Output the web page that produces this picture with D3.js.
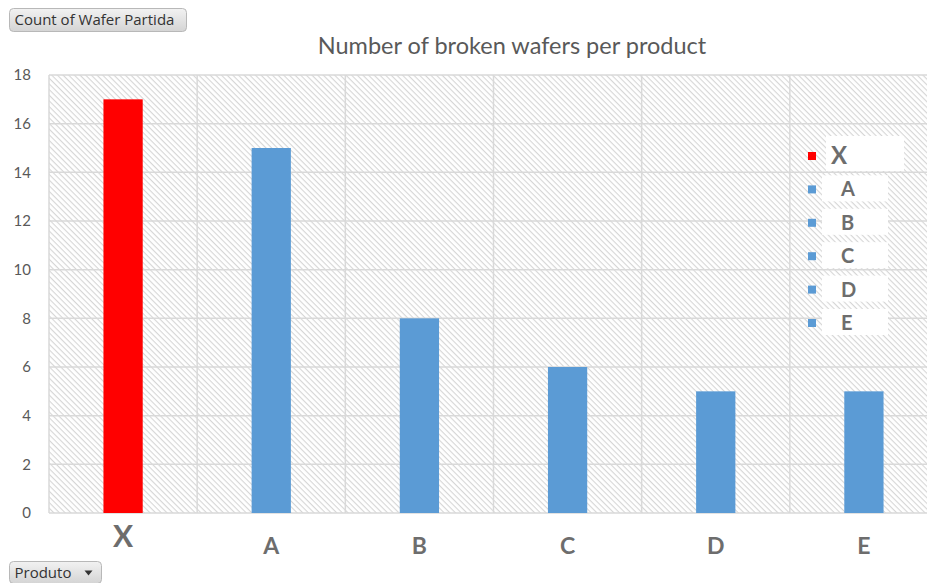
<!DOCTYPE html>
<html>
<head>
<meta charset="utf-8">
<script src="https://cdn.jsdelivr.net/npm/d3@7"></script>
<style>
  body { margin: 0; background: #fff; }
  svg { display: block; }
</style>
</head>
<body>
<svg id="chart"></svg>
<script>
// data
const products = ["X", "A", "B", "C", "D", "E"];
const counts = [17, 15, 8, 6, 5, 5];
const barColors = ["#ff0000", "#5b9bd5", "#5b9bd5", "#5b9bd5", "#5b9bd5", "#5b9bd5"];
const yTicks = [0, 2, 4, 6, 8, 10, 12, 14, 16, 18];

const W = 927, H = 583;
const margin = {top: 75, left: 49, right: -11, bottom: 70};

const svg = d3.select("#chart")
    .attr("width", W)
    .attr("height", H)
    .attr("viewBox", [0, 0, W, H])
    .style("font-family", "Lato, 'Open Sans', sans-serif");

// hatch pattern for plot background
const defs = svg.append("defs");
const pat = defs.append("pattern")
    .attr("id", "hatch")
    .attr("patternUnits", "userSpaceOnUse")
    .attr("width", 4).attr("height", 4)
    .attr("patternTransform", "rotate(45)");
pat.append("rect").attr("width", 4).attr("height", 4).attr("fill", "#fff");
pat.append("line")
    .attr("x1", 0).attr("y1", 0).attr("x2", 4).attr("y2", 0)
    .attr("stroke", "#d6d6d6").attr("stroke-width", 2.2);

const x = d3.scaleBand()
    .domain(products)
    .range([margin.left, W - margin.right])
    .paddingInner(0).paddingOuter(0);

const y = d3.scaleLinear()
    .domain([0, 18])
    .range([H - margin.bottom, margin.top]);

// plot area
svg.append("rect")
    .attr("x", margin.left).attr("y", margin.top)
    .attr("width", W - margin.right - margin.left)
    .attr("height", y(0) - y(18))
    .attr("fill", "url(#hatch)");

// horizontal grid
svg.append("g")
    .selectAll("line")
    .data(yTicks)
    .join("line")
    .attr("x1", margin.left).attr("x2", W - margin.right)
    .attr("y1", d => y(d)).attr("y2", d => y(d))
    .attr("stroke", "#d9d9d9").attr("stroke-width", 1.5);

// vertical grid at band edges
svg.append("g")
    .selectAll("line")
    .data(products)
    .join("line")
    .attr("x1", d => x(d)).attr("x2", d => x(d))
    .attr("y1", y(18)).attr("y2", y(0))
    .attr("stroke", "#d9d9d9").attr("stroke-width", 1.5);

// y axis labels
const yAxis = svg.append("g")
    .attr("transform", `translate(31,0)`)
    .call(d3.axisLeft(y).tickValues(yTicks).tickSize(0).tickPadding(0));
yAxis.select(".domain").remove();
yAxis.selectAll("text")
    .attr("fill", "#595959")
    .style("font-size", "15px")
    .style("font-family", "Lato, 'Open Sans', sans-serif");

// bars
const barW = x.bandwidth() * 0.265;
svg.append("g")
    .selectAll("rect")
    .data(products)
    .join("rect")
    .attr("x", d => x(d) + x.bandwidth() / 2 - barW / 2)
    .attr("y", (d, i) => y(counts[i]))
    .attr("width", barW)
    .attr("height", (d, i) => y(0) - y(counts[i]))
    .attr("fill", (d, i) => barColors[i]);

// x labels
svg.append("g")
    .selectAll("text")
    .data(products)
    .join("text")
    .attr("x", d => x(d) + x.bandwidth() / 2)
    .attr("y", (d, i) => i === 0 ? 547 : 554)
    .attr("text-anchor", "middle")
    .attr("fill", "#6d6d6d")
    .attr("font-weight", "bold")
    .style("font-size", (d, i) => i === 0 ? "30px" : "23px")
    .text(d => d);

// title
svg.append("text")
    .attr("x", 512).attr("y", 54)
    .attr("text-anchor", "middle")
    .attr("fill", "#595959")
    .style("font-size", "23.5px")
    .text("Number of broken wafers per product");

// legend
const leg = svg.append("g");
const legY = d3.scaleLinear().domain([0, 5]).range([156, 323]);
const legItems = leg.selectAll("g")
    .data(products)
    .join("g")
    .attr("transform", (d, i) => `translate(0,${legY(i)})`);
legItems.append("rect")
    .attr("x", d => d === "X" ? 826 : 822)
    .attr("y", d => d === "X" ? -20 : -14)
    .attr("width", d => d === "X" ? 78 : 66)
    .attr("height", d => d === "X" ? 35 : 26)
    .attr("fill", "#fff");
legItems.append("rect")
    .attr("x", 808).attr("y", -4)
    .attr("width", 8).attr("height", 8)
    .attr("fill", (d, i) => barColors[i]);
legItems.append("text")
    .attr("x", d => d === "X" ? 831 : 841)
    .attr("y", d => d === "X" ? 8 : 7)
    .attr("fill", "#6d6d6d")
    .attr("font-weight", "bold")
    .style("font-size", d => d === "X" ? "24px" : "20px")
    .text(d => d);

// pivot-style field buttons
function fieldButton(bx, by, bw, bh, label, arrow) {
    const g = svg.append("g");
    const gid = "btn" + Math.round(by);
    const grad = defs.append("linearGradient").attr("id", gid)
        .attr("x1", 0).attr("y1", 0).attr("x2", 0).attr("y2", 1);
    grad.append("stop").attr("offset", "0%").attr("stop-color", "#f2f2f2");
    grad.append("stop").attr("offset", "100%").attr("stop-color", "#d4d4d4");
    g.append("rect")
        .attr("x", bx).attr("y", by).attr("width", bw).attr("height", bh)
        .attr("rx", 4)
        .attr("fill", `url(#${gid})`)
        .attr("stroke", "#b8b8b8");
    g.append("text")
        .attr("x", bx + 5).attr("y", by + bh / 2 + 5)
        .attr("fill", "#333")
        .style("font-family", "'Open Sans', 'DejaVu Sans', sans-serif")
        .style("font-size", "15px")
        .text(label);
    if (arrow) {
        g.append("path")
            .attr("d", d3.line()([[bx + bw - 17, by + bh / 2 - 2], [bx + bw - 9, by + bh / 2 - 2], [bx + bw - 13, by + bh / 2 + 3]]))
            .attr("fill", "#333");
    }
}
fieldButton(9.5, 8.5, 177, 23, "Count of Wafer Partida", false);
fieldButton(9.5, 561.5, 92, 22, "Produto", true);
</script>
</body>
</html>
